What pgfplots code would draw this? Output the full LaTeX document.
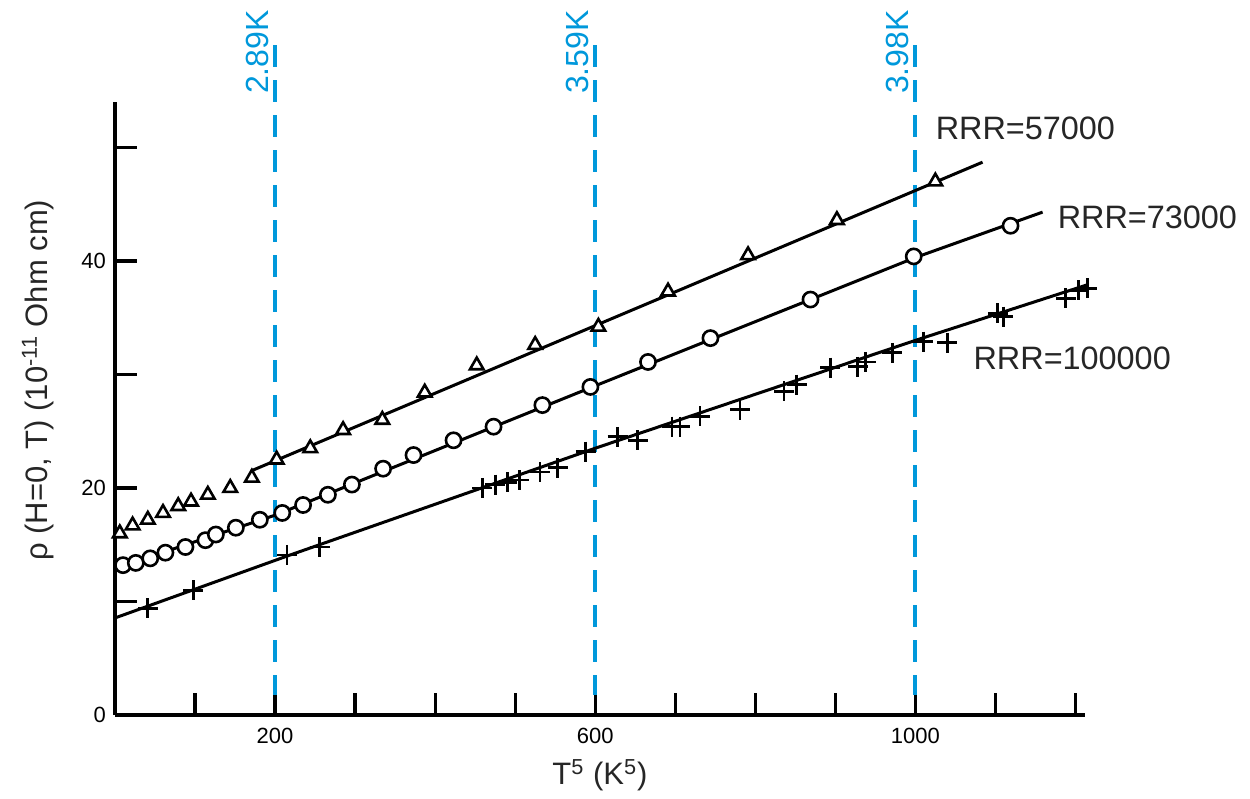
\documentclass[border=0pt]{standalone}
\usepackage{fontspec}
\setmainfont{Liberation Sans}
\usepackage{pgfplots}
\pgfplotsset{compat=1.18}
\definecolor{lineblue}{RGB}{0,152,219}
\begin{document}
\begin{tikzpicture}
\path[use as bounding box] (-57.5pt,-42pt) rectangle (567.5pt,357.5pt);
\begin{axis}[
  at={(0,0)}, anchor=south west,
  scale only axis, width=485pt, height=306.5pt,
  xmin=0, xmax=1212, ymin=0, ymax=54,
  axis x line=bottom, axis y line=left,
  axis line style={line width=2pt, -},
  xtick={100,200,...,1200}, xticklabels={,200,,,,600,,,,1000,,},
  ytick={0,10,...,50}, yticklabels={0,,20,,40,},
  tick align=inside, major tick length=11pt,
  tick style={line width=1.6pt, black},
  /pgf/number format/assume math mode=true,
  ticklabel style={font=\fontsize{11}{13}\selectfont},
  xticklabel style={yshift=-3pt},
  yticklabel style={xshift=-1pt},
  xlabel={T\textsuperscript{5} (K\textsuperscript{5})},
  ylabel={ρ (H=0, T) (10\textsuperscript{-11} Ohm cm)},
  label style={font=\fontsize{15.5}{18}\selectfont, color=black!85},
  xlabel style={at={(axis description cs:0.5,-0.098)}, anchor=center},
  ylabel style={at={(axis description cs:-0.0794,0.546)}, anchor=center},
  clip=false,
]
% blue reference lines
\addplot[lineblue, line width=2pt, dash pattern=on 11pt off 6.5pt] coordinates {(200,59.0)(200,1.8)};
\addplot[lineblue, line width=2pt, dash pattern=on 11pt off 6.5pt] coordinates {(600,59.0)(600,1.8)};
\addplot[lineblue, line width=2pt, dash pattern=on 11pt off 6.5pt] coordinates {(1000,59.0)(1000,1.8)};
% fit lines
\addplot[black, line width=1.5pt] coordinates {(170,21.5)(600,34.3)(1000,46.2)(1084,48.7)};
\addplot[black, line width=1.5pt] coordinates {(3,13.0)(200,17.6)(600,29.0)(1000,40.3)(1159,44.3)};
\addplot[black, line width=1.5pt] coordinates {(2,8.6)(215,14.0)(600,23.5)(1000,33.0)(1215,37.9)};
% RRR=57000 triangles
\addplot[only marks, mark=triangle*, mark size=3.9pt, mark options={draw=black, fill=white, line width=1.3pt}] coordinates {
(6,16.0)(22,16.7)(41,17.2)(60,17.8)(79,18.4)(95,18.8)(116,19.4)(144,20.0)(171,20.9)(202,22.5)(244,23.5)(285,25.1)(334,26.0)(387,28.4)(452,30.8)(525,32.6)(604,34.2)(691,37.3)(791,40.5)(902,43.6)(1025,47.0)};
% RRR=73000 circles
\addplot[only marks, mark=*, mark size=3.8pt, mark options={draw=black, fill=white, line width=1.3pt}] coordinates {
(10,13.2)(26,13.4)(44,13.8)(63,14.3)(88,14.8)(113,15.4)(126,15.9)(151,16.5)(181,17.2)(209,17.8)(235,18.5)(266,19.4)(296,20.3)(335,21.7)(373,22.9)(423,24.2)(473,25.4)(534,27.3)(594,28.9)(666,31.1)(744,33.2)(869,36.6)(998,40.4)(1119,43.1)};
% RRR=100000 crosses
\addplot[only marks, mark=+, mark size=5pt, mark options={draw=black, line width=1.4pt}] coordinates {
(41,9.4)(98,11.0)(215,14.1)(256,14.8)(459,20.0)(475,20.3)(490,20.5)(505,20.7)(531,21.4)(553,21.8)(588,23.2)(628,24.5)(653,24.2)(696,25.4)(706,25.4)(731,26.3)(781,26.9)(836,28.5)(852,29.1)(894,30.6)(928,30.7)(938,31.1)(971,31.9)(1010,32.9)(1040,32.8)(1103,35.4)(1110,35.1)(1188,36.7)(1204,37.4)(1215,37.6)};
% labels
\node[font=\fontsize{16.2}{19}\selectfont, color=black!85] at (axis cs:1137.5,51.7) {RRR=57000};
\node[font=\fontsize{16.2}{19}\selectfont, color=black!85] at (axis cs:1290,43.8) {RRR=73000};
\node[font=\fontsize{16.2}{19}\selectfont, color=black!85] at (axis cs:1196,31.45) {RRR=100000};
\node[rotate=90, font=\fontsize{16}{19}\selectfont, color=lineblue] at (axis cs:177.5,58.4) {2.89K};
\node[rotate=90, font=\fontsize{16}{19}\selectfont, color=lineblue] at (axis cs:577.5,58.4) {3.59K};
\node[rotate=90, font=\fontsize{16}{19}\selectfont, color=lineblue] at (axis cs:977.5,58.4) {3.98K};
\end{axis}
\end{tikzpicture}
\end{document}
